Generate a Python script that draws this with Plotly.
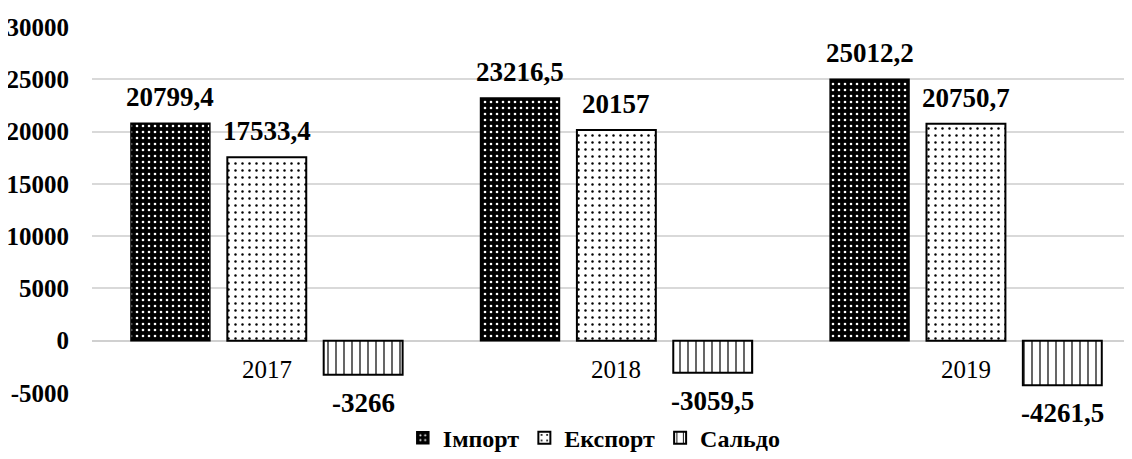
import plotly.graph_objects as go

years = ["2017", "2018", "2019"]
series_names = ["Імпорт", "Експорт", "Сальдо"]
import_vals = [20799.4, 23216.5, 25012.2]
export_vals = [17533.4, 20157.0, 20750.7]
saldo_vals = [-3266.0, -3059.5, -4261.5]
import_labels = ["20799,4", "23216,5", "25012,2"]
export_labels = ["17533,4", "20157", "20750,7"]
saldo_labels = ["-3266", "-3059,5", "-4261,5"]
y_ticks = [-5000, 0, 5000, 10000, 15000, 20000, 25000, 30000]

FONT = "Liberation Serif"
BARGAP = 0.173
GROUPGAP = 0.181
L, R, T, B = 84, 8, 19, 74
W, H = 1132, 459
XRANGE = [-0.5, 2.475]
cat_px = (W - L - R) / (XRANGE[1] - XRANGE[0])
slot_px = cat_px * (1 - BARGAP) / 3

styles = [
    dict(marker=dict(color="black", line=dict(color="black", width=1.5),
                     pattern=dict(shape=".", bgcolor="black", fgcolor="white",
                                  size=6, solidity=0.15, fillmode="replace"))),
    dict(marker=dict(color="white", line=dict(color="black", width=2),
                     pattern=dict(shape=".", bgcolor="white", fgcolor="black",
                                  size=7, solidity=0.1, fillmode="replace"))),
    dict(marker=dict(color="white", line=dict(color="black", width=2),
                     pattern=dict(shape="|", bgcolor="white", fgcolor="black",
                                  size=8, solidity=0.15, fillmode="replace"))),
]

fig = go.Figure()
all_vals = [import_vals, export_vals, saldo_vals]
all_labels = [import_labels, export_labels, saldo_labels]
for name, vals, st in zip(series_names, all_vals, styles):
    fig.add_trace(go.Bar(x=years, y=vals, name="<b>" + name + "</b>", **st))

annotations = []
for i, (vals, labels) in enumerate(zip(all_vals, all_labels)):
    shift = (i - 1) * slot_px
    for k, (v, lab) in enumerate(zip(vals, labels)):
        pos = v >= 0
        annotations.append(dict(
            x=k, y=v, xref="x", yref="y", text="<b>" + lab + "</b>", showarrow=False,
            xshift=shift, yshift=9 if pos else -11,
            yanchor="bottom" if pos else "top", xanchor="center",
            font=dict(family=FONT, size=27, color="black"),
        ))
for k, yr in enumerate(years):
    annotations.append(dict(
        x=k, y=0, xref="x", yref="y", text=yr, showarrow=False,
        yanchor="top", xanchor="center", yshift=-13,
        font=dict(family=FONT, size=25, color="black"),
    ))

fig.update_layout(
    width=W, height=H,
    margin=dict(l=L, r=R, t=T, b=B, autoexpand=False),
    paper_bgcolor="white", plot_bgcolor="white",
    barmode="group", bargap=BARGAP, bargroupgap=GROUPGAP,
    font=dict(family=FONT, color="black"),
    xaxis=dict(type="category", range=XRANGE, showticklabels=False, showgrid=False,
               zeroline=False, showline=False, ticks="", automargin=False),
    yaxis=dict(range=[-5000, 30000], tickvals=y_ticks,
               ticktext=["<b>%d</b>" % t for t in y_ticks],
               showgrid=True, gridcolor="#d9d9d9", gridwidth=1.5,
               zeroline=True, zerolinecolor="#d0d0d0", zerolinewidth=2,
               showline=False, ticks="", ticklabelstandoff=22, automargin=False,
               tickfont=dict(family=FONT, size=25, color="black")),
    legend=dict(orientation="h", x=0.483, xanchor="center", y=0.063,
                yref="container", yanchor="middle",
                font=dict(family=FONT, size=24, color="black"),
                itemwidth=30, traceorder="normal"),
    annotations=annotations,
)

fig.write_html("out.html")
